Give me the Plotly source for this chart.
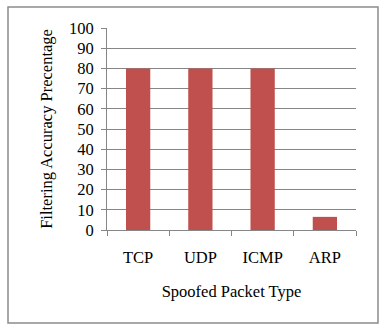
import plotly.graph_objects as go

categories = ["TCP", "UDP", "ICMP", "ARP"]
values = [80, 80, 80, 6.5]
y_ticks = [0, 10, 20, 30, 40, 50, 60, 70, 80, 90, 100]

W, H = 387, 326
L, R, T, B = 107, 31, 28, 96
pw, ph = W - L - R, H - T - B

font = dict(family="Liberation Serif, Times New Roman, serif", size=16.5, color="#000000")

fig = go.Figure(go.Bar(x=categories, y=values, marker=dict(color="#C0504D", line=dict(width=0)), width=0.39))

def px_x(x):
    return (x - L) / pw

def px_y(y):
    return (H - B - y) / ph

fig.update_layout(
    width=W, height=H,
    margin=dict(l=L, r=R, t=T, b=B),
    paper_bgcolor="white", plot_bgcolor="white",
    font=font,
    showlegend=False,
    bargap=0.61,
    xaxis=dict(
        type="category",
        tickson="boundaries",
        ticks="outside", ticklen=5, tickcolor="#868686", tickwidth=1,
        showline=True, linecolor="#868686", linewidth=1,
        showgrid=False,
        ticklabelstandoff=12,
        title=dict(text="Spoofed Packet Type", font=font, standoff=19),
        tickfont=font,
    ),
    yaxis=dict(
        range=[0, 100],
        tickvals=y_ticks,
        ticks="outside", ticklen=5, tickcolor="#868686", tickwidth=1,
        showline=True, linecolor="#868686", linewidth=1,
        showgrid=True, gridcolor="#868686", gridwidth=1,
        zeroline=False,
        ticklabelstandoff=4,
        title=dict(text="Filtering Accuracy Precentage", font=font, standoff=12),
        tickfont=font,
    ),
    shapes=[dict(type="rect", xref="paper", yref="paper",
                 x0=px_x(8), x1=px_x(378), y0=px_y(323), y1=px_y(7),
                 line=dict(color="#8c8c8c", width=1.5), fillcolor="rgba(0,0,0,0)", layer="below")],
)

fig.write_html("out.html")
